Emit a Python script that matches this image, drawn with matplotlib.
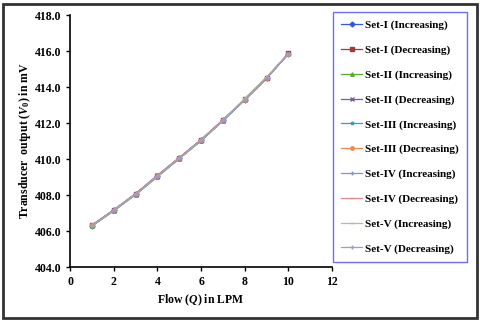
import matplotlib
matplotlib.use('Agg')
import matplotlib.pyplot as plt
from matplotlib.patches import Rectangle

plt.rcParams['font.family'] = 'Liberation Serif'
plt.rcParams['font.weight'] = 'bold'
plt.rcParams['mathtext.fontset'] = 'custom'
plt.rcParams['mathtext.it'] = 'Liberation Serif:bold:italic'
plt.rcParams['mathtext.rm'] = 'Liberation Serif:bold'

flow = [1, 2, 3, 4, 5, 6, 7, 8, 9, 10]
set1_inc = [406.30, 407.15, 408.05, 409.05, 410.05, 411.05, 412.15, 413.30, 414.50, 415.85]
set1_dec = [406.32, 407.18, 408.08, 409.08, 410.08, 411.08, 412.18, 413.32, 414.52, 415.87]
set2_inc = [406.28, 407.12, 408.02, 409.02, 410.02, 411.02, 412.12, 413.35, 414.55, 415.85]
set2_dec = [406.33, 407.17, 408.07, 409.10, 410.07, 411.07, 412.17, 413.28, 414.48, 415.88]
set3_inc = [406.30, 407.14, 408.04, 409.04, 410.04, 411.04, 412.14, 413.30, 414.50, 415.84]
set3_dec = [406.31, 407.16, 408.06, 409.06, 410.06, 411.06, 412.16, 413.31, 414.51, 415.86]
set4_inc = [406.29, 407.13, 408.03, 409.03, 410.03, 411.03, 412.13, 413.29, 414.49, 415.85]
set4_dec = [406.32, 407.17, 408.07, 409.07, 410.07, 411.07, 412.17, 413.32, 414.52, 415.87]
set5_inc = [406.30, 407.15, 408.05, 409.05, 410.05, 411.05, 412.15, 413.38, 414.55, 415.85]
set5_dec = [406.31, 407.16, 408.06, 409.06, 410.06, 411.06, 412.16, 413.31, 414.51, 415.86]

series = [
    ('Set-I (Increasing)', set1_inc, '#3355ee', 'D'),
    ('Set-I (Decreasing)', set1_dec, '#a03a3a', 's'),
    ('Set-II (Increasing)', set2_inc, '#5aaa2a', '^'),
    ('Set-II (Decreasing)', set2_dec, '#7a5aa8', 'x'),
    ('Set-III (Increasing)', set3_inc, '#3a9ab8', '*'),
    ('Set-III (Decreasing)', set3_dec, '#f08a4a', 'o'),
    ('Set-IV (Increasing)', set4_inc, '#8095c0', '+'),
    ('Set-IV (Decreasing)', set4_dec, '#e08a8a', '_'),
    ('Set-V (Increasing)', set5_inc, '#a8c88a', '_'),
    ('Set-V (Decreasing)', set5_dec, '#a898c0', '+'),
]

fig = plt.figure(figsize=(4.8, 3.21), dpi=100)
ax = fig.add_axes([0.146, 0.168, 0.546, 0.785])

for label, vals, col, mk in series:
    ax.plot(flow, vals, color=col, marker=mk, markersize=2.5, linewidth=0.9, label=label)

ax.set_xlim(0, 12)
ax.set_ylim(404, 418)
ax.set_xticks(range(0, 13, 2))
ax.set_yticks([404, 406, 408, 410, 412, 414, 416, 418])
ax.set_yticklabels(['%.1f' % v for v in [404, 406, 408, 410, 412, 414, 416, 418]])
ax.tick_params(labelsize=8.5, length=3, width=1)
ax.spines['top'].set_visible(False)
ax.spines['right'].set_visible(False)
ax.spines['left'].set_linewidth(1.2)
ax.spines['bottom'].set_linewidth(1.2)
ax.set_xlabel('Flow ($Q$) in LPM', fontsize=8.5, fontweight='bold', labelpad=3)
ax.set_ylabel('Transducer  output ($V_0$) in mV', fontsize=8.5, fontweight='bold', labelpad=1)

leg = fig.legend(loc='upper left', bbox_to_anchor=(333 / 480, 1 - 12 / 321), ncol=1,
                 fontsize=8, frameon=True, fancybox=False, labelspacing=1.33,
                 handlelength=1.9, handletextpad=0.2, borderpad=0.75, borderaxespad=0)
leg.get_frame().set_edgecolor('#4a4af0')
leg.get_frame().set_linewidth(1)

fig.patches.append(Rectangle((3 / 480, 3 / 321), 474 / 480, 314 / 321, transform=fig.transFigure,
                             fill=False, edgecolor='#333333', linewidth=2))

fig.savefig('out.png', dpi=100)
